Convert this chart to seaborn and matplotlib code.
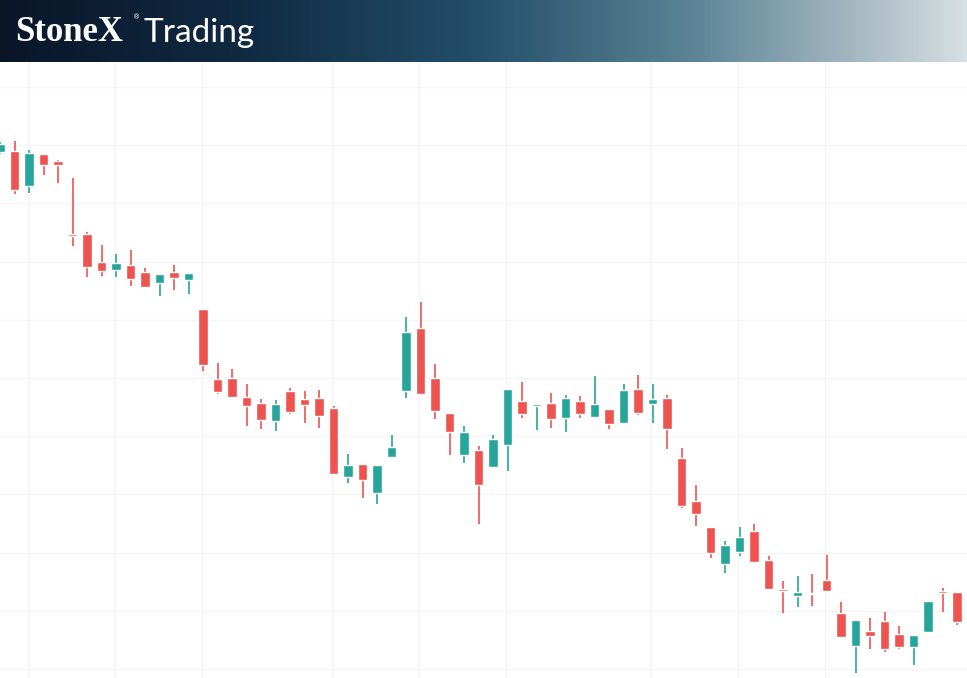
import numpy as np
import matplotlib
matplotlib.use("Agg")
import matplotlib.pyplot as plt
import seaborn as sns
from matplotlib.colors import LinearSegmentedColormap

sns.set_theme(style="white")

# candle values (price units, higher = up)
opens  = [548, 549, 514, 546, 539, 466, 466, 438, 430, 435, 428, 417, 428, 420,
          391, 321, 322, 303, 297, 279, 309, 301, 302, 292, 223, 236, 207, 243,
          309, 372, 322, 287, 245, 250, 233, 255, 299, 294, 297, 282, 299, 283,
          291, 277, 311, 296, 302, 242, 199, 173, 136, 148, 169, 140, 111, 104,
          107, 120, 87, 54, 69, 79, 66, 53, 68, 109, 108]
closes = [556, 510, 547, 535, 535, 464, 433, 429, 437, 421, 413, 426, 422, 427,
          335, 308, 303, 294, 280, 296, 288, 295, 284, 226, 235, 220, 235, 253,
          368, 306, 289, 268, 268, 215, 261, 311, 286, 296, 281, 302, 286, 296,
          276, 310, 287, 301, 271, 194, 186, 147, 155, 163, 138, 111, 109, 108,
          106, 109, 63, 80, 64, 51, 53, 65, 99, 107, 78]
highs  = [558, 559, 550, 546, 540, 522, 468, 455, 446, 450, 432, 426, 435, 427,
          391, 337, 331, 316, 301, 300, 312, 309, 310, 294, 246, 236, 235, 265,
          383, 398, 336, 287, 274, 254, 265, 311, 318, 296, 307, 305, 304, 324,
          291, 316, 325, 316, 305, 252, 215, 173, 159, 173, 176, 144, 119, 124,
          126, 145, 98, 80, 82, 88, 74, 65, 99, 112, 108]
lows   = [546, 506, 507, 525, 517, 454, 423, 424, 423, 414, 412, 404, 410, 406,
          329, 306, 302, 274, 271, 269, 286, 277, 272, 225, 217, 202, 196, 243,
          302, 305, 281, 245, 237, 176, 233, 229, 282, 270, 272, 268, 282, 283,
          271, 277, 285, 277, 251, 192, 174, 142, 127, 144, 137, 111, 87, 93,
          94, 109, 63, 27, 51, 48, 51, 35, 68, 88, 75]

up_col, down_col = "#26a69a", "#ef5350"
spacing = 14.5

fig = plt.figure(figsize=(9.67, 6.78), dpi=100)

# header band
hdr = fig.add_axes([0, 1 - 62 / 678, 1, 62 / 678])
cmap = LinearSegmentedColormap.from_list(
    "hdr", [(0, "#0a1628"), (0.25, "#102a42"), (0.5, "#24506a"),
            (0.72, "#5d8597"), (0.88, "#a3b6c0"), (1, "#d6dfe3")])
hdr.imshow(np.linspace(0, 1, 256)[None, :], aspect="auto", cmap=cmap,
           extent=[0, 1, 0, 1])
hdr.set_axis_off()
hdr.text(15 / 967, 0.47, "StoneX", color="white", fontsize=25, fontweight="bold",
         family="Liberation Serif", va="center", transform=hdr.transAxes)
hdr.text(133 / 967, 0.72, "®", color="white", fontsize=5, va="center",
         transform=hdr.transAxes)
hdr.text(143 / 967, 0.47, "Trading", color="white", fontsize=24,
         family="Lato", va="center", transform=hdr.transAxes)

# chart
ax = fig.add_axes([0, 0, 1, 1 - 62 / 678])
x = np.arange(len(opens))
o, c, h, l = map(np.array, (opens, closes, highs, lows))
cols = np.where(c >= o, up_col, down_col)
ax.vlines(x, l, h, colors=cols, linewidth=1.2, zorder=2)
body = np.maximum(np.abs(c - o), 1.5)
ax.bar(x, body, bottom=np.minimum(o, c), width=0.68, color=cols, zorder=3)

ax.set_xlim(0, 967 / spacing)
ax.set_ylim(22, 638)
for gy in np.arange(31, 640, 58.2):
    ax.axhline(gy, color="#f5f5f5", linewidth=1, zorder=0)
for gx in [1.9, 7.9, 13.9, 22.9, 28.9, 34.9, 44.9, 50.9, 56.9]:
    ax.axvline(gx, color="#f5f5f5", linewidth=1, zorder=0)
ax.set_xticks([])
ax.set_yticks([])
for s in ax.spines.values():
    s.set_visible(False)

fig.savefig("out.png", dpi=100)
